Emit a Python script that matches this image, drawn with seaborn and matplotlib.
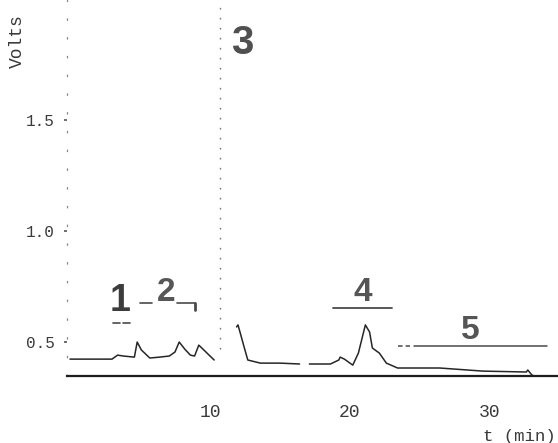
import numpy as np
import pandas as pd
import matplotlib
matplotlib.use("Agg")
import matplotlib.pyplot as plt
import seaborn as sns

# ---- data (time in min, signal in volts) ----
seg_a_t = [0.0, 3.0, 3.4, 3.8, 4.6, 4.8, 5.1, 5.7, 6.4, 7.1, 7.5, 7.8, 8.2, 8.6, 8.9, 9.2, 9.5, 10.0, 10.3]
seg_a_v = [0.423, 0.423, 0.441, 0.437, 0.432, 0.500, 0.464, 0.428, 0.432, 0.437, 0.455, 0.500, 0.468,
           0.441, 0.437, 0.486, 0.468, 0.437, 0.419]
seg_b_t = [11.9, 12.0, 12.2, 12.4, 12.7, 13.6, 15.0, 16.4]
seg_b_v = [0.568, 0.577, 0.532, 0.486, 0.419, 0.405, 0.405, 0.401]
seg_c_t = [17.1, 17.9, 18.6, 19.2, 19.3, 19.6, 20.2, 20.6, 21.1, 21.4, 21.6, 22.1, 22.6, 23.4, 25.0,
           26.4, 29.5, 32.6, 32.7, 33.0, 33.4]
seg_c_v = [0.401, 0.401, 0.401, 0.419, 0.432, 0.423, 0.396, 0.450, 0.577, 0.545, 0.473, 0.450, 0.405,
           0.383, 0.383, 0.383, 0.369, 0.365, 0.374, 0.351, 0.342]
peak3_t = [10.7, 10.7]
peak3_v = [0.47, 2.10]

y_ticks = [0.5, 1.0, 1.5]
y_ticklabels = ["0.5", "1.0", "1.5"]
x_ticks = [10, 20, 30]
x_ticklabels = ["10", "20", "30"]

peak_labels = ["1", "2", "3", "4", "5"]
peak_label_t = [3.6, 6.9, 12.3, 20.9, 28.6]
peak_label_v = [0.685, 0.722, 1.845, 0.722, 0.552]

df = pd.DataFrame({
    "t": seg_a_t + seg_b_t + seg_c_t,
    "v": seg_a_v + seg_b_v + seg_c_v,
    "seg": ["a"] * len(seg_a_t) + ["b"] * len(seg_b_t) + ["c"] * len(seg_c_t),
})

sns.set_style("white")
plt.rcParams["font.family"] = ["DejaVu Sans"]

fig = plt.figure(figsize=(5.58, 4.43), dpi=100)
ax = fig.add_axes([67 / 558, 1 - 376 / 443, 1 - 67 / 558, 376 / 443])

sns.lineplot(data=df, x="t", y="v", units="seg", estimator=None, color="#262626",
             lw=1.1, ax=ax, legend=False)
ax.plot(peak3_t, peak3_v, color="#777777", lw=1.0, linestyle=(0, (1.2, 6)))

ax.set_xlim(-0.214, 34.86)
ax.set_ylim(0.347, 2.040)

# label bars
ink = "#4a4a4a"
ax.plot([3.05, 3.55], [0.586, 0.586], color=ink, lw=1.2)
ax.plot([3.80, 4.30], [0.586, 0.586], color=ink, lw=1.2)
ax.plot([5.0, 5.86], [0.676, 0.676], color=ink, lw=1.2)
ax.plot([7.64, 8.93], [0.676, 0.676], color=ink, lw=1.2)
ax.plot([8.93, 8.93], [0.676, 0.644], color=ink, lw=2.0)
ax.plot([18.8, 23.0], [0.653, 0.653], color=ink, lw=1.3)
ax.plot([23.4, 24.3], [0.482, 0.482], color=ink, lw=1.1, linestyle=(0, (3, 2)))
ax.plot([24.6, 34.1], [0.482, 0.482], color=ink, lw=1.1)

sizes = [27, 24, 29, 24, 24]
colors = ["#3c3c3c", "#575757", "#505050", "#555555", "#555555"]
for lab, t, v, s, c in zip(peak_labels, peak_label_t, peak_label_v, sizes, colors):
    ax.text(t, v, lab, ha="center", va="center", fontsize=s, fontweight="bold",
            color=c, family="Liberation Sans")

# axes styling
for side in ["top", "right"]:
    ax.spines[side].set_visible(False)
ax.spines["bottom"].set_color("#1e1e1e")
ax.spines["bottom"].set_linewidth(1.6)
ax.spines["left"].set_color("#888888")
ax.spines["left"].set_linewidth(0.9)
ax.spines["left"].set_linestyle((0, (1, 14)))

ax.set_yticks(y_ticks)
ax.set_yticklabels(y_ticklabels, family="Liberation Mono", fontsize=11.5, color="#3a3a3a")
ax.set_xticks(x_ticks)
ax.set_xticklabels(x_ticklabels, family="Liberation Mono", fontsize=13, color="#3a3a3a")
ax.tick_params(axis="y", length=2, width=1.2, color="#555555", pad=7, direction="out", left=True)
ax.tick_params(axis="x", length=0, pad=20)
ax.set_xlabel("")
ax.set_ylabel("")

fig.text(17 / 558, 1 - 41 / 443, "Volts", rotation=90, ha="center", va="center",
         family="Liberation Mono", fontsize=13, color="#3a3a3a")
fig.text(556 / 558, 1 - 441 / 443, "t (min)", ha="right", va="baseline",
         family="Liberation Mono", fontsize=12.5, color="#3a3a3a")

fig.savefig("out.png", dpi=100, facecolor="white")
